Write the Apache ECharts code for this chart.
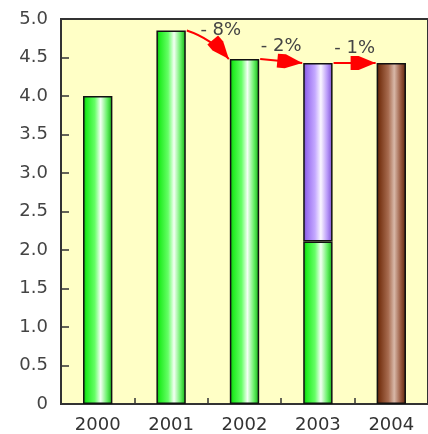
<!DOCTYPE html>
<html>
<head>
<meta charset="utf-8">
<script src="https://cdn.jsdelivr.net/npm/echarts@6/dist/echarts.min.js"></script>
<style>html,body{margin:0;padding:0;background:#fff;}#c{width:428px;height:434px;}</style>
</head>
<body>
<div id="c"></div>
<script>
// ---- data ----
const years = ['2000', '2001', '2002', '2003', '2004'];
const greenValues = [4.0, 4.85, 4.48, 2.11, null];
const purpleValues = [null, null, null, 2.32, null];
const brownValues = [null, null, null, null, 4.43];
const totals = [4.0, 4.85, 4.48, 4.43, 4.43];
const changeFrom = [1, 2, 3];
const changeLabels = ['- 8%', '- 2%', '- 1%'];

function grad(c) {
  return new echarts.graphic.LinearGradient(0, 0, 1, 0, [
    {offset: 0, color: c[0]}, {offset: 0.12, color: c[1]}, {offset: 0.4, color: c[2]},
    {offset: 0.6, color: c[3]}, {offset: 0.82, color: c[4]}, {offset: 1, color: c[5]}
  ]);
}
const greenG = grad(['#10b010', '#22ee22', '#66ff66', '#f4fff4', '#66f066', '#10b010']);
const purpleG = grad(['#7a4ed0', '#9a70f0', '#c4a8ff', '#faf6ff', '#b898f8', '#7a4ed0']);
const brownG = grad(['#5a2008', '#7a3818', '#a86c50', '#d8b8a8', '#9a5a40', '#5a2008']);

const arrowData = changeFrom.map((i, k) => [i, totals[i], totals[i + 1], k]);
const FONT = 'DejaVu Sans';

function headPoints(tip, ang) {
  const pts = [[0, 0], [-17, -7], [-25, -7], [-25, 7], [-17, 7]];
  const c = Math.cos(ang), s = Math.sin(ang);
  return pts.map(p => [tip[0] + p[0] * c - p[1] * s, tip[1] + p[0] * s + p[1] * c]);
}

function renderArrow(params, api) {
  const i = api.value(0), v0 = api.value(1), v1 = api.value(2), k = api.value(3);
  const half = api.size([1, 0])[0] * 0.4 / 2;
  const a = api.coord([i, v0]);
  const b = api.coord([i + 1, v1]);
  const start = [a[0] + half + 1, a[1]];
  const end = [b[0] - half - 1, b[1]];
  const children = [];
  let ang, labelPos;
  if (k === 0) {
    const cp = [(start[0] + end[0]) / 2 + 4, (start[1] + end[1]) / 2 - 6];
    ang = Math.atan2(end[1] - cp[1], end[0] - cp[0]);
    children.push({
      type: 'bezierCurve',
      shape: {x1: start[0], y1: start[1], x2: end[0], y2: end[1], cpx1: cp[0], cpy1: cp[1]},
      style: {stroke: '#ff0000', lineWidth: 2, fill: null}
    });
    labelPos = [start[0] + 34, start[1]];
  } else {
    ang = Math.atan2(end[1] - start[1], end[0] - start[0]);
    children.push({
      type: 'line',
      shape: {x1: start[0], y1: start[1], x2: end[0], y2: end[1]},
      style: {stroke: '#ff0000', lineWidth: 2}
    });
    labelPos = [(start[0] + end[0]) / 2, (start[1] + end[1]) / 2 - 15];
  }
  children.push({
    type: 'polygon',
    shape: {points: headPoints(end, ang)},
    style: {fill: '#ff0000'}
  });
  children.push({
    type: 'text',
    x: labelPos[0], y: labelPos[1],
    style: {text: changeLabels[k], fill: '#444', font: '18px "' + FONT + '"', align: 'center', verticalAlign: 'middle'}
  });
  return {type: 'group', children: children};
}

const chart = echarts.init(document.getElementById('c'), null, {renderer: 'canvas'});
const barBase = {
  type: 'bar', stack: 'all', barWidth: '40%',
  itemStyle: {borderColor: '#111', borderWidth: 1.5},
  animation: false
};
chart.setOption({
  animation: false,
  backgroundColor: '#ffffff',
  grid: {
    left: 61, top: 19, width: 375, height: 385,
    show: true, backgroundColor: '#ffffc6', borderColor: '#333', borderWidth: 2,
    containLabel: false
  },
  xAxis: {
    type: 'category', data: years,
    axisLine: {lineStyle: {color: '#333', width: 2}},
    axisTick: {show: true, inside: true, length: 6, lineStyle: {color: '#333', width: 1.5}},
    axisLabel: {color: '#333', fontFamily: FONT, fontSize: 18, margin: 12}
  },
  yAxis: {
    type: 'value', min: 0, max: 5, interval: 0.5,
    splitLine: {show: false},
    axisLine: {show: true, lineStyle: {color: '#333', width: 2}},
    axisTick: {show: true, inside: true, length: 8, lineStyle: {color: '#333', width: 1.5}},
    axisLabel: {
      color: '#444', fontFamily: FONT, fontSize: 18, margin: 13,
      formatter: v => v === 0 ? '0' : v.toFixed(1)
    }
  },
  series: [
    Object.assign({}, barBase, {name: 'green', data: greenValues, itemStyle: Object.assign({}, barBase.itemStyle, {color: greenG})}),
    Object.assign({}, barBase, {name: 'purple', data: purpleValues, itemStyle: Object.assign({}, barBase.itemStyle, {color: purpleG})}),
    Object.assign({}, barBase, {name: 'brown', data: brownValues, itemStyle: Object.assign({}, barBase.itemStyle, {color: brownG})}),
    {
      type: 'custom', name: 'change', coordinateSystem: 'cartesian2d',
      data: arrowData, encode: {x: 0, y: 1}, renderItem: renderArrow, z: 10, clip: false,
      silent: true, animation: false
    }
  ]
});
</script>
</body>
</html>
